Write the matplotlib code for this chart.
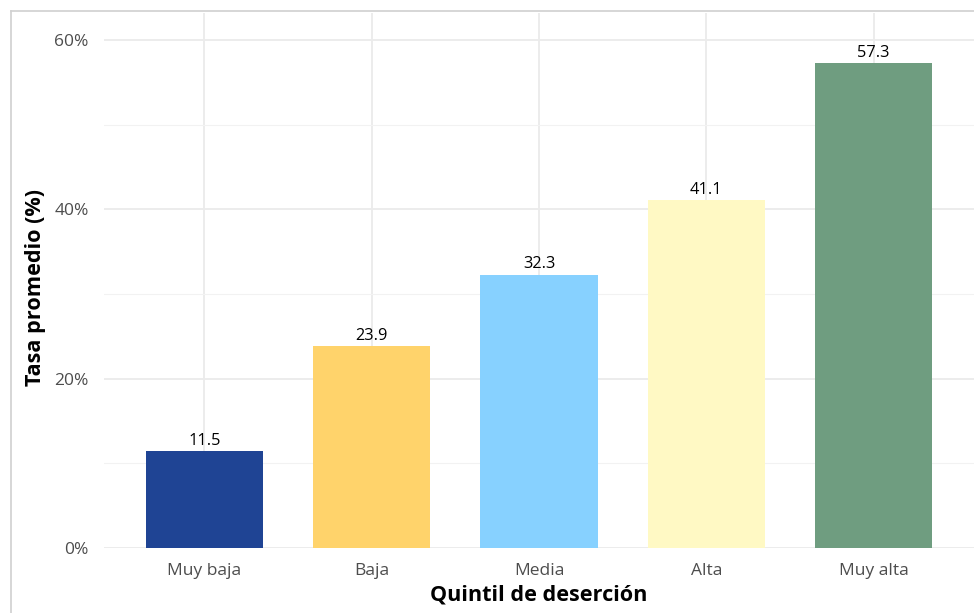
import matplotlib
matplotlib.use("Agg")
import matplotlib.pyplot as plt
from matplotlib.lines import Line2D
import numpy as np

categories = ["Muy baja", "Baja", "Media", "Alta", "Muy alta"]
values = [11.5, 23.9, 32.3, 41.1, 57.3]
colors = ["#1F4494", "#FFD36B", "#87D1FF", "#FFF9C4", "#6F9D80"]
yticks = [0, 20, 40, 60]
ytick_labels = ["0%", "20%", "40%", "60%"]
minor_ticks = [10, 30, 50]

plt.rcParams['font.family'] = ['Open Sans', 'DejaVu Sans']

W, H = 974, 613
fig = plt.figure(figsize=(W / 100, H / 100), dpi=100)
ax = fig.add_axes([104 / W, (H - 548) / H, (W - 104) / W, (548 - 13) / H])

x = np.arange(len(categories))
ax.bar(x, values, width=0.70, color=colors, zorder=3)
for xi, v in zip(x, values):
    ax.annotate(f"{v:.1f}", (xi, v), xytext=(0, 1.5), textcoords="offset points",
                ha="center", va="bottom", fontsize=11.8, color="black", zorder=4)

ax.set_xlim(-0.6, len(categories) - 0.4)
ax.set_ylim(0, 63.2)
ax.set_xticks(x)
ax.set_xticklabels(categories)
ax.set_yticks(yticks)
ax.set_yticklabels(ytick_labels)
ax.set_yticks(minor_ticks, minor=True)

ax.grid(True, which="major", color="#EBEBEB", linewidth=1.3, zorder=0)
ax.grid(True, which="minor", axis="y", color="#F2F2F2", linewidth=0.8, zorder=0)
ax.tick_params(axis="both", which="both", length=0, labelsize=12.5, colors="#4D4D4D")
ax.tick_params(axis="x", pad=11)
ax.tick_params(axis="y", pad=11)
for s in ax.spines.values():
    s.set_visible(False)

ax.set_xlabel("Quintil de deserción", fontsize=15.6, fontweight="bold", color="black", labelpad=4)
ax.set_ylabel("Tasa promedio (%)", fontsize=15.6, fontweight="bold", color="black")
ax.yaxis.set_label_coords(-58 / (W - 104), (548 - 288) / (548 - 13))

# outer border of the (cropped) plot background
fig.add_artist(Line2D([11 / W, 11 / W], [0, 1 - 11 / H], color="#D0D0D0", linewidth=1.2,
                      transform=fig.transFigure))
fig.add_artist(Line2D([11 / W, 1], [1 - 11 / H, 1 - 11 / H], color="#D0D0D0", linewidth=1.2,
                      transform=fig.transFigure))

fig.savefig("out.png", dpi=100)
